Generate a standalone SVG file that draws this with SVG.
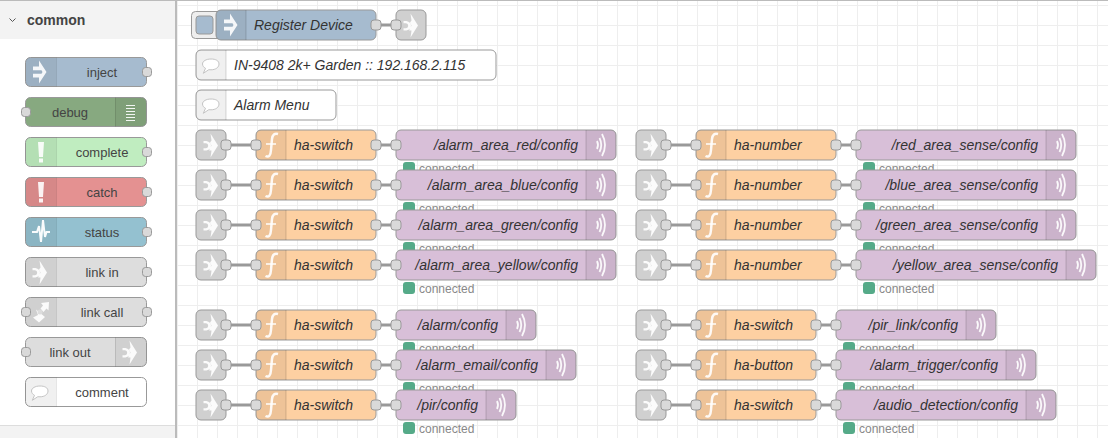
<svg xmlns="http://www.w3.org/2000/svg" width="1108" height="438" viewBox="0 0 1108 438">
<style>
text{font-family:"Liberation Sans",Arial,sans-serif}
.b{stroke:#999;stroke-width:1}
.port{fill:#d9d9d9;stroke:#999;stroke-width:1}
.w{fill:none;stroke:#999;stroke-width:3}
.l{font-size:14px;font-style:italic;fill:#333}
.e{text-anchor:end}
.p{font-size:13px;fill:#444;text-anchor:middle}
.s{font-size:12px;fill:#888}
.ic{fill:#fff;fill-opacity:.9}
.icl{fill:none;stroke:#fff;stroke-opacity:.9}
.inj{fill:#a6bbcf}.fn{fill:#fdd0a2}.mq{fill:#d8bfd8}.lk{fill:#ddd}.cm{fill:#fff}
</style>
<defs>
<pattern id="grid" x="177" y="5" width="20" height="20" patternUnits="userSpaceOnUse"><path d="M.5 0V20M0 .5H20" fill="none" stroke="#eee"/></pattern>
<path id="segL" d="M30 0H5a5 5 0 0 0-5 5V25a5 5 0 0 0 5 5H30Z" fill="#000" fill-opacity=".06" stroke="none"/>
<path id="segR" d="M0 0H25a5 5 0 0 1 5 5V25a5 5 0 0 1-5 5H0Z" fill="#000" fill-opacity=".06" stroke="none"/>
<path id="sep" d="M0 0V30" stroke="#000" stroke-opacity=".15"/>
<path id="segLP" d="M31 .5H5.500a5 5 0 0 0-5 5V24.500a5 5 0 0 0 5 5H31Z" fill="#000" fill-opacity=".06" stroke="none"/>
<path id="sepLP" d="M31.500 .5V29.500" stroke="#000" stroke-opacity=".1"/>
<path id="segRP" d="M90 .5H116.500a5 5 0 0 1 5 5V24.500a5 5 0 0 1-5 5H90Z" fill="#000" fill-opacity=".06" stroke="none"/>
<path id="sepRP" d="M90.500 .5V29.500" stroke="#000" stroke-opacity=".1"/>
<path id="iInj" class="ic" d="M14 3.500L21.500 15L14 26.500V20.500H8V16.800H16.500L17.500 15L16.500 13.200H8V9.500H14Z"/>
<path id="iLink" class="ic" d="M14.500 3.500L22 15.500L14.500 27.500L15.500 20.500H13L15.500 15.500L14 12.500L15.500 10.500ZM7.500 11H10.500Q15 12 15 15.500Q15 19.500 10.500 20.500H7.500V18.200H10Q12.200 18 12.200 15.800Q12.200 13.600 10 13.300H7.500Z" fill-opacity=".82"/>
<g id="iFn" class="icl"><path d="M9.500 26Q14.500 28.500 15 20L16 9Q16.800 2.500 22 4" stroke-width="2.500" fill="none"/><path d="M10 14H20" stroke-width="1.600"/></g>
<g id="iMq" class="icl" stroke-width="1.800"><path d="M11 11q2 4 0 8"/><path d="M13.500 8q3.500 7 0 14"/><path d="M16 4q6 11 0 22"/></g>
<g id="iCm"><path d="M15 9c-5 0-8.500 2.200-8.500 5c0 2 1.500 3.500 3 4.300l-2.200 5l5.500-3.600c.7 .1 1.500 .1 2.200 .1c4.700 0 8-2.500 8-5.800s-3.300-5-8-5Z" fill="#fff" stroke="#c4c4c4"/></g>
<g id="nLink"><rect class="b" width="30" height="30" rx="5" fill="#d0d0d0"/><use href="#iLink"/><rect class="port" x="25" y="10" width="10" height="10" rx="3"/></g>
<g id="st"><rect x="7" y="32" width="12" height="12" rx="3" fill="#5a8"/><text class="s" x="23" y="43">connected</text></g>
<g id="fn120"><rect class="b fn" width="120" height="30" rx="5"/><use href="#segL"/><use href="#sep" x="30"/><use href="#iFn"/><rect class="port" x="-5" y="10" width="10" height="10" rx="3"/><rect class="port" x="115" y="10" width="10" height="10" rx="3"/></g>
<g id="fn140"><rect class="b fn" width="140" height="30" rx="5"/><use href="#segL"/><use href="#sep" x="30"/><use href="#iFn"/><rect class="port" x="-5" y="10" width="10" height="10" rx="3"/><rect class="port" x="135" y="10" width="10" height="10" rx="3"/></g>
<g id="mqPort"><rect class="port" x="-5" y="10" width="10" height="10" rx="3"/></g>
<g id="pPortR"><rect class="port" x="117.500" y="10.500" width="9" height="9" rx="3"/></g>
<g id="pPortL"><rect class="port" x="-3.500" y="10.500" width="9" height="9" rx="3"/></g>
</defs>
<rect width="1108" height="438" fill="#fff"/>
<rect x="177" width="931" height="438" fill="url(#grid)"/>
<rect width="1108" height="1" fill="#bbb"/>
<g id="sidebar">
<rect y="1" width="175" height="437" fill="#fff"/>
<rect y="1" width="175" height="38" fill="#f3f3f3"/>
<rect y="425" width="175" height="13" fill="#f3f3f3"/><rect y="425" width="175" height="1" fill="#ddd"/>
<rect x="175" y="0" width="2" height="438" fill="#bbb"/>
<path d="M9.500 18.500L12.500 21.500L15.500 18.500" fill="none" stroke="#555"/>
<text x="27" y="25" font-size="14" font-weight="700" fill="#444">common</text>
</g>
<g id="pal-inject" transform="translate(25,57)"><rect class="b inj" x=".5" y=".5" width="121" height="29" rx="5"/><use href="#segLP"/><use href="#sepLP"/><use href="#iInj"/><use href="#pPortR"/><text class="p" x="77" y="20">inject</text></g>
<g id="pal-debug" transform="translate(25,97)"><rect class="b" x=".5" y=".5" width="121" height="29" rx="5" fill="#87a980"/><use href="#segRP"/><use href="#sepRP"/><path d="M101 8.500h9M101 11.500h9M101 14.500h9M101 17.500h9M101 20.500h9M101 23.500h9" stroke="#fff" stroke-opacity=".9"/><use href="#pPortL"/><text class="p" x="45" y="20">debug</text></g>
<g id="pal-complete" transform="translate(25,137)"><rect class="b" x=".5" y=".5" width="121" height="29" rx="5" fill="#c0edc0"/><use href="#segLP"/><use href="#sepLP"/><path class="ic" d="M13 5H19L18 20H14ZM14 21.500H18V25.500H14Z"/><use href="#pPortR"/><text class="p" x="77" y="20">complete</text></g>
<g id="pal-catch" transform="translate(25,177)"><rect class="b" x=".5" y=".5" width="121" height="29" rx="5" fill="#e49191"/><use href="#segLP"/><use href="#sepLP"/><path class="ic" d="M13 5H19L18 20H14ZM14 21.500H18V25.500H14Z"/><use href="#pPortR"/><text class="p" x="77" y="20">catch</text></g>
<g id="pal-status" transform="translate(25,217)"><rect class="b" x=".5" y=".5" width="121" height="29" rx="5" fill="#94c1d0"/><use href="#segLP"/><use href="#sepLP"/><path d="M7 15H12L14 9L16 25L18 3L20 20L21.500 15H25" fill="none" stroke="#fff" stroke-opacity=".95" stroke-width="2"/><use href="#pPortR"/><text class="p" x="77" y="20">status</text></g>
<g id="pal-linkin" transform="translate(25,257)"><rect class="b lk" x=".5" y=".5" width="121" height="29" rx="5"/><use href="#segLP"/><use href="#sepLP"/><use href="#iLink"/><use href="#pPortR"/><text class="p" x="77" y="20">link in</text></g>
<g id="pal-linkcall" transform="translate(25,297)"><rect class="b lk" x=".5" y=".5" width="121" height="29" rx="5"/><use href="#segLP"/><use href="#sepLP"/><path class="ic" d="M16 6L24 5L23.500 13.500L21.500 11.500L18.500 15L15.500 11.500L18 8.500ZM11 12.500L20 20L14 25.500L8 20.500L13 18Z"/><circle cx="15" cy="15" r="2.500" fill="#ddd"/><use href="#pPortL"/><use href="#pPortR"/><text class="p" x="77" y="20">link call</text></g>
<g id="pal-linkout" transform="translate(25,337)"><rect class="b lk" x=".5" y=".5" width="121" height="29" rx="5"/><use href="#segRP"/><use href="#sepRP"/><use href="#iLink" x="90"/><use href="#pPortL"/><text class="p" x="45" y="20">link out</text></g>
<g id="pal-comment" transform="translate(25,377)"><rect class="b cm" x=".5" y=".5" width="121" height="29" rx="5"/><use href="#segLP"/><use href="#sepLP"/><use href="#iCm"/><text class="p" x="77" y="20">comment</text></g>
<g id="connectors">
<path class="w" d="M376 25H396"/>
<path class="w" d="M226 145H256M376 145H396M226 185H256M376 185H396M226 225H256M376 225H396M226 265H256M376 265H396M226 325H256M376 325H396M226 365H256M376 365H396M226 405H256M376 405H396"/>
<path class="w" d="M666 145H696M836 145H856M666 185H696M836 185H856M666 225H696M836 225H856M666 265H696M836 265H856M666 325H696M816 325H836M666 365H696M816 365H836M666 405H696M816 405H836"/>
</g>
<g id="register-device" transform="translate(216,10)">
<rect x="-24.500" y="1.500" width="34" height="27" rx="4" fill="#eee" stroke="#999"/><rect x="-20" y="6" width="17" height="18" rx="3" fill="#a6bbcf" stroke="#999"/>
<rect class="b inj" width="160" height="30" rx="5"/><use href="#segL"/><use href="#sep" x="30"/><use href="#iInj"/><rect class="port" x="155" y="10" width="10" height="10" rx="3"/><text class="l" x="38" y="20">Register Device</text></g>
<g id="register-linkout" transform="translate(396,10)"><rect class="b" width="30" height="30" rx="5" fill="#d0d0d0"/><use href="#iLink"/><use href="#mqPort"/></g>
<g id="comment-device" transform="translate(196,50)"><rect class="b cm" width="300" height="30" rx="5"/><use href="#segL"/><use href="#sep" x="30"/><use href="#iCm"/><text class="l" x="38" y="20">IN-9408 2k+ Garden :: 192.168.2.115</text></g>
<g id="comment-alarm" transform="translate(196,90)"><rect class="b cm" width="140" height="30" rx="5"/><use href="#segL"/><use href="#sep" x="30"/><use href="#iCm"/><text class="l" x="38" y="20">Alarm Menu</text></g>

<g id="l1"><use href="#nLink" x="196" y="130"/><use href="#fn120" x="256" y="130"/><text class="l" x="294" y="150">ha-switch</text></g>
<g id="m1" transform="translate(396,130)"><use href="#st"/><rect class="b mq" width="220" height="30" rx="5"/><use href="#segR" x="190"/><use href="#sep" x="190"/><use href="#iMq" x="190"/><use href="#mqPort"/><text class="l e" x="182" y="20">/alarm_area_red/config</text></g>
<g id="l2"><use href="#nLink" x="196" y="170"/><use href="#fn120" x="256" y="170"/><text class="l" x="294" y="190">ha-switch</text></g>
<g id="m2" transform="translate(396,170)"><use href="#st"/><rect class="b mq" width="220" height="30" rx="5"/><use href="#segR" x="190"/><use href="#sep" x="190"/><use href="#iMq" x="190"/><use href="#mqPort"/><text class="l e" x="182" y="20">/alarm_area_blue/config</text></g>
<g id="l3"><use href="#nLink" x="196" y="210"/><use href="#fn120" x="256" y="210"/><text class="l" x="294" y="230">ha-switch</text></g>
<g id="m3" transform="translate(396,210)"><use href="#st"/><rect class="b mq" width="220" height="30" rx="5"/><use href="#segR" x="190"/><use href="#sep" x="190"/><use href="#iMq" x="190"/><use href="#mqPort"/><text class="l e" x="182" y="20">/alarm_area_green/config</text></g>
<g id="l4"><use href="#nLink" x="196" y="250"/><use href="#fn120" x="256" y="250"/><text class="l" x="294" y="270">ha-switch</text></g>
<g id="m4" transform="translate(396,250)"><use href="#st"/><rect class="b mq" width="220" height="30" rx="5"/><use href="#segR" x="190"/><use href="#sep" x="190"/><use href="#iMq" x="190"/><use href="#mqPort"/><text class="l e" x="182" y="20">/alarm_area_yellow/config</text></g>
<g id="l5"><use href="#nLink" x="196" y="310"/><use href="#fn120" x="256" y="310"/><text class="l" x="294" y="330">ha-switch</text></g>
<g id="m5" transform="translate(396,310)"><use href="#st"/><rect class="b mq" width="140" height="30" rx="5"/><use href="#segR" x="110"/><use href="#sep" x="110"/><use href="#iMq" x="110"/><use href="#mqPort"/><text class="l e" x="102" y="20">/alarm/config</text></g>
<g id="l6"><use href="#nLink" x="196" y="350"/><use href="#fn120" x="256" y="350"/><text class="l" x="294" y="370">ha-switch</text></g>
<g id="m6" transform="translate(396,350)"><use href="#st"/><rect class="b mq" width="180" height="30" rx="5"/><use href="#segR" x="150"/><use href="#sep" x="150"/><use href="#iMq" x="150"/><use href="#mqPort"/><text class="l e" x="142" y="20">/alarm_email/config</text></g>
<g id="l7"><use href="#nLink" x="196" y="390"/><use href="#fn120" x="256" y="390"/><text class="l" x="294" y="410">ha-switch</text></g>
<g id="m7" transform="translate(396,390)"><use href="#st"/><rect class="b mq" width="120" height="30" rx="5"/><use href="#segR" x="90"/><use href="#sep" x="90"/><use href="#iMq" x="90"/><use href="#mqPort"/><text class="l e" x="82" y="20">/pir/config</text></g>

<g id="r1"><use href="#nLink" x="636" y="130"/><use href="#fn140" x="696" y="130"/><text class="l" x="734" y="150">ha-number</text></g>
<g id="q1" transform="translate(856,130)"><use href="#st"/><rect class="b mq" width="220" height="30" rx="5"/><use href="#segR" x="190"/><use href="#sep" x="190"/><use href="#iMq" x="190"/><use href="#mqPort"/><text class="l e" x="182" y="20">/red_area_sense/config</text></g>
<g id="r2"><use href="#nLink" x="636" y="170"/><use href="#fn140" x="696" y="170"/><text class="l" x="734" y="190">ha-number</text></g>
<g id="q2" transform="translate(856,170)"><use href="#st"/><rect class="b mq" width="220" height="30" rx="5"/><use href="#segR" x="190"/><use href="#sep" x="190"/><use href="#iMq" x="190"/><use href="#mqPort"/><text class="l e" x="182" y="20">/blue_area_sense/config</text></g>
<g id="r3"><use href="#nLink" x="636" y="210"/><use href="#fn140" x="696" y="210"/><text class="l" x="734" y="230">ha-number</text></g>
<g id="q3" transform="translate(856,210)"><use href="#st"/><rect class="b mq" width="220" height="30" rx="5"/><use href="#segR" x="190"/><use href="#sep" x="190"/><use href="#iMq" x="190"/><use href="#mqPort"/><text class="l e" x="182" y="20">/green_area_sense/config</text></g>
<g id="r4"><use href="#nLink" x="636" y="250"/><use href="#fn140" x="696" y="250"/><text class="l" x="734" y="270">ha-number</text></g>
<g id="q4" transform="translate(856,250)"><use href="#st"/><rect class="b mq" width="240" height="30" rx="5"/><use href="#segR" x="210"/><use href="#sep" x="210"/><use href="#iMq" x="210"/><use href="#mqPort"/><text class="l e" x="202" y="20">/yellow_area_sense/config</text></g>
<g id="r5"><use href="#nLink" x="636" y="310"/><use href="#fn120" x="696" y="310"/><text class="l" x="734" y="330">ha-switch</text></g>
<g id="q5" transform="translate(836,310)"><use href="#st"/><rect class="b mq" width="160" height="30" rx="5"/><use href="#segR" x="130"/><use href="#sep" x="130"/><use href="#iMq" x="130"/><use href="#mqPort"/><text class="l e" x="122" y="20">/pir_link/config</text></g>
<g id="r6"><use href="#nLink" x="636" y="350"/><use href="#fn120" x="696" y="350"/><text class="l" x="734" y="370">ha-button</text></g>
<g id="q6" transform="translate(836,350)"><use href="#st"/><rect class="b mq" width="200" height="30" rx="5"/><use href="#segR" x="170"/><use href="#sep" x="170"/><use href="#iMq" x="170"/><use href="#mqPort"/><text class="l e" x="162" y="20">/alarm_trigger/config</text></g>
<g id="r7"><use href="#nLink" x="636" y="390"/><use href="#fn120" x="696" y="390"/><text class="l" x="734" y="410">ha-switch</text></g>
<g id="q7" transform="translate(836,390)"><use href="#st"/><rect class="b mq" width="220" height="30" rx="5"/><use href="#segR" x="190"/><use href="#sep" x="190"/><use href="#iMq" x="190"/><use href="#mqPort"/><text class="l e" x="182" y="20">/audio_detection/config</text></g>
</svg>
